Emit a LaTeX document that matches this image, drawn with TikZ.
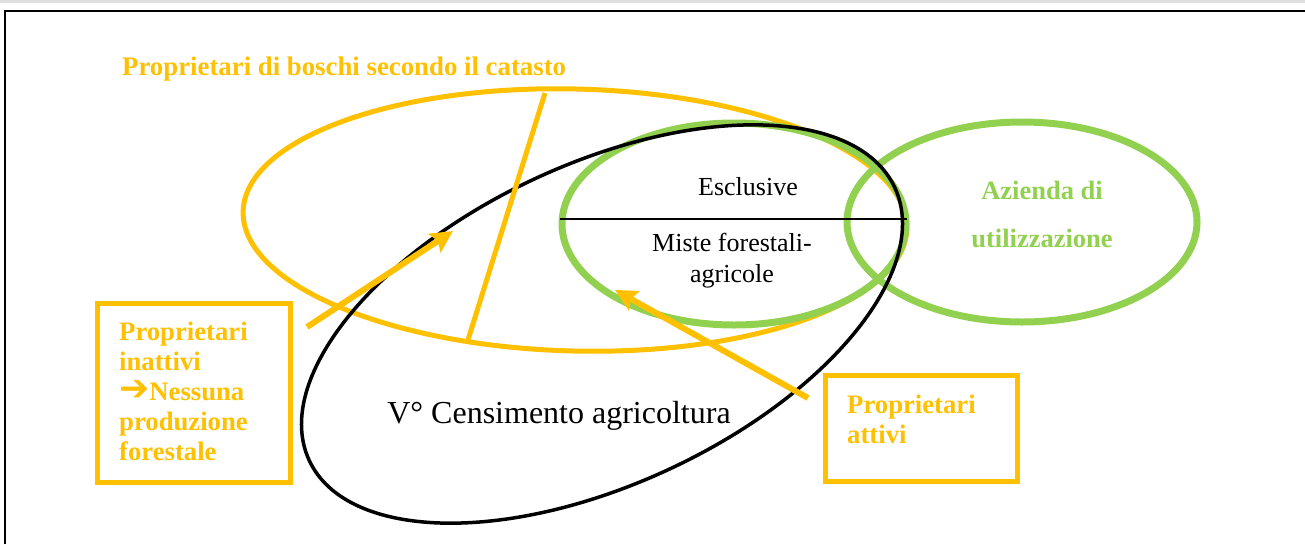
\documentclass[tikz,border=0pt]{standalone}
\usepackage{fontspec}
\usepackage{graphicx}
\setmainfont{Liberation Serif}
\newfontfamily\djv{DejaVu Sans}
\usetikzlibrary{arrows.meta}
\definecolor{ylw}{HTML}{FFC000}
\definecolor{grn}{HTML}{92D050}
\begin{document}
\begin{tikzpicture}[x=1pt,y=-1pt,
  yl/.style={draw=ylw,line width=5pt},
  gr/.style={draw=grn,line width=7pt},
  bl/.style={draw=black,line width=3.5pt},
  arr/.style={draw=ylw,line width=6pt,-{Stealth[length=22pt,width=22pt,inset=4pt]}},
  ybox/.style={draw=ylw,line width=5pt,inner sep=0pt,fill=none},
  ytxt/.style={text=ylw,font=\fontsize{26.7}{29.8}\selectfont\bfseries,align=left,inner sep=0pt,anchor=base west},
  gtxt/.style={text=grn,font=\fontsize{26.5}{48}\selectfont\bfseries,align=center,inner sep=0pt,anchor=base},
  btxt/.style={font=\fontsize{26}{30.5}\selectfont,align=center,inner sep=0pt,anchor=base},
]
\useasboundingbox (0,0) rectangle (1305,544);
% frame
\fill[gray!25] (0,0) rectangle (1305,2.5);
\draw[line width=2pt] (5,544) -- (5,10.5) -- (1305,10.5);

% yellow ellipse (catasto)
\draw[yl,rotate around={-1.5:(575,220)}] (575,220) ellipse [x radius=332, y radius=131];
% green ellipses
\draw[gr] (734,224) ellipse [x radius=172, y radius=101];
\draw[gr] (1022,222) ellipse [x radius=175, y radius=100];
% black ellipse (censimento)
\draw[bl,rotate around={25:(602,324)}] (602,324) ellipse [x radius=323, y radius=160];
% dividing line
\coordinate (hl) at (560,219);
\coordinate (hr) at (907,219);
\draw[line width=1.5pt] (hl) -- (hr);
% yellow divider inside catasto ellipse
\coordinate (yt) at (545,93);
\coordinate (yb) at (467,343);
\draw[yl] (yt) -- (yb);

% boxes
\node[ybox,minimum width=193pt,minimum height=179pt] (box1) at (193.5,392.5) {};
\node[ybox,minimum width=192pt,minimum height=106pt] (box2) at (921,428) {};

% arrows
\coordinate (a1s) at (307,327);
\coordinate (a1e) at (453,231);
\coordinate (a2s) at (808,398);
\coordinate (a2e) at (615,290);
\draw[arr] (a1s) -- (a1e);
\draw[arr] (a2s) -- (a2e);

% texts
\node[text=ylw,font=\fontsize{26.8}{30}\selectfont\bfseries,inner sep=0pt,anchor=base west] (title) at (122,75) {Proprietari di boschi secondo il catasto};
\node[ytxt] (t1) at (119,460) {Proprietari\\inattivi\\{\djv\bfseries\scalebox{1.35}{➔}}Nessuna\\produzione\\forestale};
\node[ytxt] (t2) at (847,443) {Proprietari\\attivi};
\node[btxt] (escl) at (748,195) {Esclusive};
\node[btxt] (miste) at (732,282) {Miste forestali-\\agricole};
\node[gtxt] (az) at (1042,247) {Azienda di\\utilizzazione};
\node[font=\fontsize{32}{36}\selectfont,inner sep=0pt,anchor=base] (cens) at (559,423) {V° Censimento agricoltura};
\end{tikzpicture}
\end{document}
